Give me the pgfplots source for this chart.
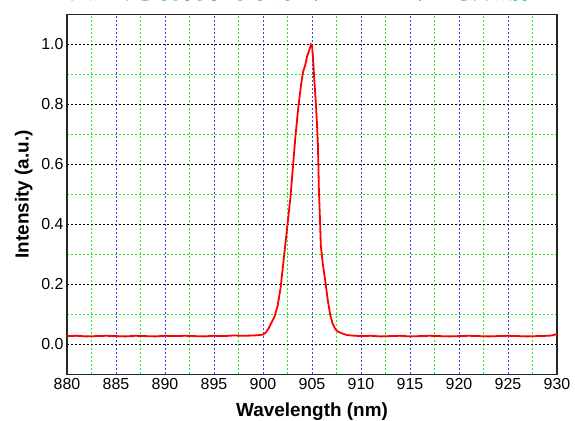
\documentclass[border=0pt]{standalone}
\usepackage{fontspec}
\setmainfont{Liberation Sans}
\newfontfamily\cjk{Noto Sans CJK SC}
\usepackage{pgfplots}
\pgfplotsset{compat=1.18}
\definecolor{titlegreen}{RGB}{0,176,80}
\definecolor{gridgreen}{RGB}{40,230,40}
\definecolor{gridblue}{RGB}{60,60,240}

\begin{document}
\begin{tikzpicture}[x=1bp,y=1bp]
\begin{axis}[
    at={(0,0)}, anchor=south west,
    scale only axis,
    width=490bp, height=360bp,
    xmin=880, xmax=930,
    ymin=-0.1, ymax=1.1,
    xtick={880,885,...,930},
    ytick={0,0.2,...,1.0},
    minor xtick={882.5,887.5,...,927.5},
    minor ytick={0.1,0.3,...,0.9},
    xmajorgrids, ymajorgrids, xminorgrids, yminorgrids,
    minor grid style={gridgreen, line width=0.9bp, dash pattern=on 2bp off 2bp},
    major x grid style={gridblue, line width=0.9bp, dash pattern=on 2bp off 2bp},
    major y grid style={black, line width=0.9bp, dash pattern=on 2bp off 2bp},
    minor x grid style={gridgreen, line width=0.9bp, dash pattern=on 2bp off 2bp},
    minor y grid style={gridgreen, line width=0.9bp, dash pattern=on 2bp off 2bp},
    major tick length=0pt, minor tick length=0pt,
    axis line style={line width=1.3bp, black!85},
    /pgf/number format/assume math mode=true,
    tick label style={font=\fontsize{16}{18}\selectfont},
    yticklabel style={/pgf/number format/.cd, fixed, fixed zerofill, precision=1},
    xticklabel style={/pgf/number format/.cd, fixed, precision=0, set thousands separator={}},
    xlabel={\textbf{Wavelength (nm)}},
    ylabel={\textbf{Intensity (a.u.)}},
    label style={font=\fontsize{19}{21}\selectfont},
    xlabel style={yshift=-7bp},
    ylabel style={yshift=2bp},
    clip=true,
]
\addplot[red, line width=1.8bp] coordinates {
(880,0.028) (881,0.029) (882,0.027) (883,0.028) (884,0.029) (885,0.028)
(886,0.027) (887,0.029) (888,0.028) (889,0.027) (890,0.029) (891,0.028)
(892,0.029) (893,0.028) (894,0.027) (895,0.029) (896,0.028) (897,0.030)
(898,0.029) (899,0.030) (899.5,0.031) (900,0.033) (900.3,0.040)
(900.6,0.055) (900.9,0.075) (901.2,0.095) (901.5,0.13) (901.8,0.19)
(902.0,0.25) (902.2,0.31) (902.5,0.40) (902.8,0.49) (903.0,0.57)
(903.3,0.69) (903.6,0.79) (903.9,0.87) (904.1,0.91) (904.3,0.93)
(904.5,0.96) (904.7,0.98) (904.9,1.0) (905.0,0.995) (905.1,0.96)
(905.2,0.90) (905.3,0.85) (905.4,0.80) (905.5,0.74) (905.6,0.67)
(905.65,0.60) (905.7,0.52) (905.8,0.43) (905.9,0.33) (906.1,0.27)
(906.4,0.20) (906.6,0.15) (906.85,0.10) (907.1,0.07) (907.4,0.05)
(907.7,0.042) (908,0.038) (908.5,0.032) (909,0.030) (910,0.028)
(911,0.029) (912,0.027) (913,0.028) (914,0.029) (915,0.027)
(916,0.028) (917,0.029) (918,0.028) (919,0.027) (920,0.028)
(921,0.029) (922,0.028) (923,0.027) (924,0.028) (925,0.029)
(926,0.028) (927,0.027) (928,0.028) (929,0.029) (929.5,0.030)
(930,0.035)
};
\end{axis}
\node[anchor=south west, text=titlegreen, font=\cjk\bfseries\fontsize{28}{30}\selectfont, inner sep=0pt]
  at (-54bp,373bp) {一、典型光谱特性曲线（905nm）的数据};
\pgfresetboundingbox
\useasboundingbox (-67bp,-46.5bp) rectangle (508bp,374.5bp);
\end{tikzpicture}
\end{document}
